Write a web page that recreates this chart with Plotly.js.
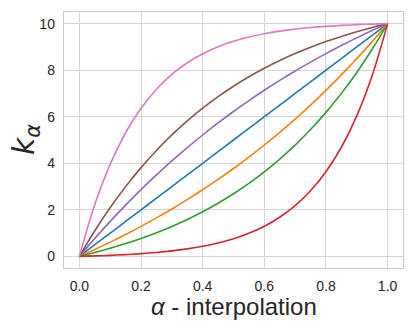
<!DOCTYPE html>
<html>
<head>
<meta charset="utf-8">
<script src="https://cdn.plot.ly/plotly-3.0.1.min.js"></script>
<style>
  html, body { margin: 0; padding: 0; background: #ffffff; }
  #chart { width: 415px; height: 332px; }
</style>
</head>
<body>
<div id="chart"></div>
<script>
// alpha sample points and curve values
const alpha = [0, 0.05, 0.1, 0.15, 0.2, 0.25, 0.3, 0.35, 0.4, 0.45, 0.5,
               0.55, 0.6, 0.65, 0.7, 0.75, 0.8, 0.85, 0.9, 0.95, 1];

const kBlue   = [0, 0.5, 1, 1.5, 2, 2.5, 3, 3.5, 4, 4.5, 5,
                 5.5, 6, 6.5, 7, 7.5, 8, 8.5, 9, 9.5, 10];
const kOrange = [0, 0.298, 0.612, 0.942, 1.289, 1.653, 2.036, 2.439, 2.862, 3.307, 3.775,
                 4.267, 4.785, 5.328, 5.9, 6.501, 7.132, 7.796, 8.495, 9.228, 10];
const kGreen  = [0, 0.165, 0.347, 0.548, 0.77, 1.015, 1.287, 1.587, 1.918, 2.285, 2.689,
                 3.137, 3.631, 4.178, 4.782, 5.45, 6.187, 7.003, 7.904, 8.899, 10];
const kRed    = [0, 0.019, 0.044, 0.076, 0.117, 0.169, 0.236, 0.323, 0.433, 0.576, 0.759,
                 0.993, 1.295, 1.682, 2.179, 2.817, 3.636, 4.688, 6.039, 7.773, 10];
const kPurple = [0, 0.772, 1.505, 2.204, 2.868, 3.499, 4.1, 4.672, 5.215, 5.733, 6.225,
                 6.693, 7.138, 7.561, 7.964, 8.347, 8.711, 9.058, 9.388, 9.702, 10];
const kBrown  = [0, 1.101, 2.096, 2.997, 3.813, 4.55, 5.218, 5.822, 6.369, 6.863, 7.311,
                 7.715, 8.082, 8.413, 8.713, 8.985, 9.23, 9.452, 9.653, 9.835, 10];
const kPink   = [0, 2.227, 3.961, 5.312, 6.364, 7.183, 7.821, 8.318, 8.705, 9.007, 9.241,
                 9.424, 9.567, 9.677, 9.764, 9.831, 9.883, 9.924, 9.956, 9.981, 10];

const xTicks = [0, 0.2, 0.4, 0.6, 0.8, 1.0];
const xTickText = ['0.0', '0.2', '0.4', '0.6', '0.8', '1.0'];
const yTicks = [0, 2, 4, 6, 8, 10];

const series = [
  { y: kBlue,   color: '#1f77b4' },
  { y: kOrange, color: '#ff7f0e' },
  { y: kGreen,  color: '#2ca02c' },
  { y: kRed,    color: '#d62728' },
  { y: kPurple, color: '#9467bd' },
  { y: kBrown,  color: '#8c564b' },
  { y: kPink,   color: '#e377c2' }
];

const traces = series.map(s => ({
  x: alpha,
  y: s.y,
  type: 'scatter',
  mode: 'lines',
  line: { color: s.color, width: 1.6, shape: 'spline', smoothing: 1 },
  hoverinfo: 'skip'
}));

const gridColor = '#d6d6d6';
const frameColor = '#cccccc';
const tickFont = { family: 'Liberation Sans, Arial, sans-serif', size: 14, color: '#262626' };

const layout = {
  width: 415,
  height: 332,
  paper_bgcolor: '#ffffff',
  plot_bgcolor: '#ffffff',
  showlegend: false,
  margin: { l: 64, r: 12, t: 12, b: 64 },
  xaxis: {
    range: [-0.05, 1.05],
    tickvals: xTicks,
    ticktext: xTickText,
    tickfont: tickFont,
    ticks: '',
    ticklabelstandoff: 5,
    showgrid: true,
    gridcolor: gridColor,
    gridwidth: 1,
    zeroline: false,
    showline: true,
    mirror: true,
    linecolor: frameColor,
    linewidth: 1.25
  },
  yaxis: {
    range: [-0.5, 10.5],
    tickvals: yTicks,
    tickfont: tickFont,
    ticks: '',
    ticklabelstandoff: 5,
    showgrid: true,
    gridcolor: gridColor,
    gridwidth: 1,
    zeroline: false,
    showline: true,
    mirror: true,
    linecolor: frameColor,
    linewidth: 1.25
  },
  // axis titles placed as annotations so they sit where the reference has them
  annotations: [
    {
      text: '<i>α</i> - interpolation',
      xref: 'paper', yref: 'paper',
      x: 0.5, y: -0.15,
      xanchor: 'center', yanchor: 'middle',
      showarrow: false,
      font: { family: 'Liberation Sans, Arial, sans-serif', size: 24, color: '#262626' }
    },
    {
      text: '<i>k</i><sub><i>α</i></sub>',
      xref: 'paper', yref: 'paper',
      x: -0.115, y: 0.5,
      xanchor: 'center', yanchor: 'middle',
      textangle: -90,
      showarrow: false,
      font: { family: 'DejaVu Sans, sans-serif', size: 30, color: '#262626' }
    }
  ]
};

Plotly.newPlot('chart', traces, layout, { displayModeBar: false, staticPlot: true });
</script>
</body>
</html>
